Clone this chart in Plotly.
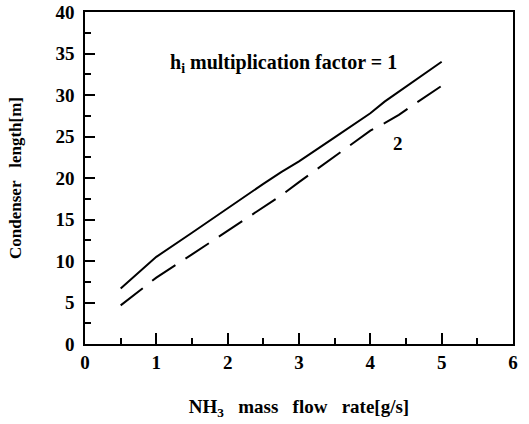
import plotly.graph_objects as go

# Data
flow_rate = [0.5, 0.75, 1.0, 1.5, 2.0, 2.5, 2.75, 3.0, 3.5, 4.0, 4.2, 4.4, 4.6, 5.0]
length_factor1 = [6.7, 8.6, 10.5, 13.4, 16.4, 19.3, 20.7, 22.0, 24.9, 27.8, 29.2, 30.4, 31.5, 34.0]
length_factor2 = [4.65, 6.3, 8.0, 10.8, 13.6, 16.5, 17.9, 19.5, 22.6, 25.7, 26.6, 27.6, 28.8, 31.1]

x_ticks = [0, 1, 2, 3, 4, 5, 6]
y_ticks = [0, 5, 10, 15, 20, 25, 30, 35, 40]

FONT = "Liberation Serif"

fig = go.Figure()
fig.add_trace(go.Scatter(x=flow_rate, y=length_factor1, mode="lines",
                         line=dict(color="black", width=2), showlegend=False))
fig.add_trace(go.Scatter(x=flow_rate, y=length_factor2, mode="lines",
                         line=dict(color="black", width=2, dash="28px,12px"), showlegend=False))

fig.add_annotation(x=2.78, y=33.8, text="<b>h<sub>i</sub> multiplication factor = 1</b>",
                   showarrow=False, font=dict(family=FONT, size=20, color="black"))
fig.add_annotation(x=4.39, y=24.1, text="<b>2</b>",
                   showarrow=False, font=dict(family=FONT, size=19, color="black"))

fig.update_layout(
    width=529, height=424,
    margin=dict(l=85, r=16, t=12, b=80),
    plot_bgcolor="white", paper_bgcolor="white",
    font=dict(family=FONT, color="black"),
    modebar=dict(bgcolor="rgba(0,0,0,0)", color="rgba(0,0,0,0)", activecolor="rgba(0,0,0,0)"),
)
fig.update_xaxes(
    range=[0, 6], tickvals=x_ticks, ticktext=["<b>%d</b>" % v for v in x_ticks],
    ticks="inside", ticklen=11, tickwidth=2, tickcolor="black",
    minor=dict(ticks="inside", dtick=0.5, ticklen=6, tickwidth=2, tickcolor="black"),
    showline=True, linecolor="black", linewidth=2, mirror=True,
    showgrid=False, zeroline=False, automargin=False,
    tickfont=dict(family=FONT, size=19, color="black"),
    title=dict(text="<b>NH<sub>3</sub>&nbsp;&nbsp; mass&nbsp;&nbsp; flow&nbsp;&nbsp; rate[g/s]</b>", standoff=28,
               font=dict(family=FONT, size=19, color="black")),
)
fig.update_yaxes(
    range=[0, 40], tickvals=y_ticks, ticktext=["<b>%d</b>&nbsp;" % v for v in y_ticks],
    ticks="inside", ticklen=10, tickwidth=2, tickcolor="black",
    minor=dict(ticks="inside", dtick=2.5, ticklen=6, tickwidth=2, tickcolor="black"),
    showline=True, linecolor="black", linewidth=2, mirror=True,
    showgrid=False, zeroline=False, automargin=False,
    tickfont=dict(family=FONT, size=19, color="black"),
    title=dict(text="<b>Condenser&nbsp;&nbsp; length[m]</b>", standoff=30,
               font=dict(family=FONT, size=17, color="black")),
)

fig.write_html(
    "out.html",
    post_script=("document.body.style.margin='0px';"
                 "document.head.insertAdjacentHTML('beforeend',"
                 "'<style>.modebar-container{display:none !important;}</style>');"),
)
